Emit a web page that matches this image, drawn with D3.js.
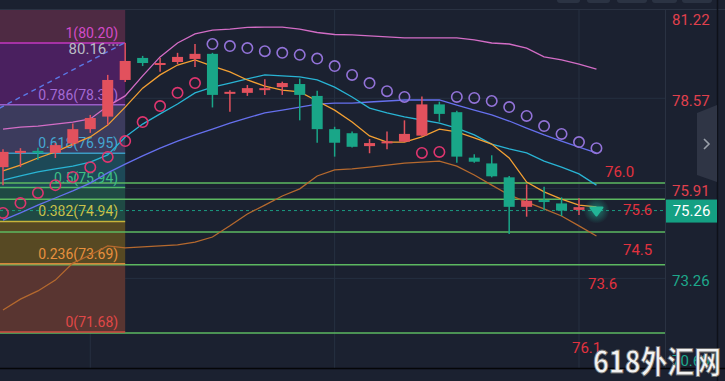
<!DOCTYPE html>
<html><head><meta charset="utf-8">
<script src="https://cdn.jsdelivr.net/npm/d3@7"></script>
<style>html,body{margin:0;padding:0;background:#1b2130;overflow:hidden}svg{display:block}</style>
</head><body><svg id="c" width="725" height="381"></svg>
<script>
// ---------- data ----------
const opens  = [76.54,76.96,77.02,76.96,77.24,77.66,78.03,79.11,79.76,79.58,79.64,79.73,79.88,78.72,78.73,78.81,78.90,78.99,78.64,77.66,77.54,77.16,77.25,77.29,77.47,78.39,78.16,76.82,76.65,76.24,75.37,75.57,75.47,75.28];
const highs  = [77.07,77.10,77.11,77.25,77.83,78.08,79.26,80.20,79.82,79.76,79.91,80.17,79.91,78.81,78.96,79.13,79.06,79.15,78.79,77.73,77.59,77.37,77.59,77.92,78.62,78.47,78.20,76.92,76.89,76.28,76.03,75.96,75.65,75.62];
const lows   = [76.01,76.54,76.75,76.81,77.16,77.55,77.78,79.05,79.52,79.35,79.58,79.49,78.30,78.17,78.64,78.67,78.67,77.92,77.26,76.85,77.12,76.95,77.07,77.28,77.44,77.88,76.67,76.67,76.24,74.57,75.08,75.26,75.10,75.13];
const closes = [76.99,77.02,76.96,77.19,77.66,77.99,79.11,79.67,79.61,79.61,79.79,79.88,78.67,78.76,78.87,78.87,79.02,78.67,77.66,77.26,77.14,77.25,77.30,77.52,78.39,78.11,76.85,76.70,76.27,75.37,75.55,75.53,75.26,75.36];
const lastPrice = 75.26;

const sar = [75.19,75.48,75.78,76.01,76.25,76.54,76.84,77.31,77.87,78.34,78.73,79.02,80.17,80.11,80.05,79.96,79.91,79.85,79.74,79.52,79.26,79.02,78.78,78.61,76.96,76.99,78.61,78.58,78.49,78.31,78.05,77.75,77.52,77.28,77.10];

const upperBand = [77.66,77.72,77.75,77.81,77.87,77.96,78.34,78.64,79.23,79.79,80.20,80.47,80.58,80.61,80.66,80.67,80.67,80.61,80.51,80.45,80.44,80.41,80.38,80.35,80.35,80.35,80.35,80.29,80.20,80.17,80.05,79.79,79.70,79.58,79.43];
const midBand   = [76.16,76.28,76.40,76.49,76.57,76.69,76.90,77.43,77.81,78.11,78.40,78.73,78.90,79.02,79.14,79.26,79.23,79.20,79.11,78.90,78.61,78.28,78.14,78.02,77.93,77.84,77.69,77.49,77.22,77.08,76.96,76.72,76.54,76.34,76.01];
const maFast    = [76.43,76.60,76.81,76.99,77.22,77.43,77.78,78.31,78.87,79.26,79.55,79.70,79.52,79.35,79.11,78.93,78.81,78.76,78.49,78.22,77.87,77.46,77.28,77.28,77.43,77.66,77.58,77.40,77.22,76.81,76.10,75.81,75.60,75.42,75.37];
const maSlow    = [74.98,75.19,75.42,75.63,75.84,76.07,76.37,76.63,76.87,77.10,77.31,77.49,77.66,77.84,77.99,78.14,78.22,78.31,78.40,78.43,78.43,78.46,78.49,78.52,78.52,78.52,78.37,78.22,78.08,77.90,77.69,77.49,77.31,77.13,76.96];
const lowerBand = [72.33,72.65,72.89,73.21,73.71,73.95,74.22,74.16,74.19,74.22,74.25,74.33,74.48,74.81,75.16,75.42,75.69,75.90,76.28,76.46,76.49,76.54,76.60,76.66,76.69,76.72,76.57,76.31,76.01,75.72,75.51,75.31,75.10,74.81,74.51];

const fibLevels = ["1","0.786","0.618","0.5","0.382","0.236","0"];
const fibValues = [80.20,78.38,76.95,75.94,74.94,73.69,71.68];
const fibEndIndex = 7;

const trendStart = [-0.2, 78.28];
const trendEnd   = [6.95, 80.20];
const trendLabel = "80.16";

const hLineValues = [76.07, 75.59, 74.63, 73.66, 71.65];
const hLineLabels = ["76.0","75.6","74.5","73.6","76.1"];

const yTicks = [81.22, 78.57, 75.91, 73.26, 70.60];
const gridIdx = [5, 19, 33];

// ---------- layout / style ----------
const W = 725, H = 381;
const P = {left:0, right:665, top:9, bottom:368};
const RED = "#e2515d", GREEN = "#19a688";
const fibLineColors = ["#c437c0","#9a5cc8","#3a9cc4","#4fb96a","#c8b43a","#d8843a","#d04a40"];
const fibTextColors = ["#d34ac9","#a46ad4","#45a6d2","#3fbf86","#c9c24a","#e8903e","#e04848"];
const zoneColors = ["#4e2a43","#4a205f","#3c3b5d","#1d4957","#1f4a44","#574923","#593531"];
const hLabelLayout = [{dx:605,dy:-6},{dx:623,dy:15.5},{dx:623,dy:23},{dx:588,dy:24},{dx:572,dy:20}];

const svg = d3.select("#c");
const x = d3.scaleLinear().domain([0, 33]).range([3, 579]);
const y = d3.scaleLinear().domain([71.68, 80.20]).range([332, 43]);

svg.append("rect").attr("width", W).attr("height", H).attr("fill", "#1b2130");

const defs = svg.append("defs");
defs.append("clipPath").attr("id","plot").append("rect")
  .attr("x",P.left).attr("y",P.top).attr("width",P.right-P.left).attr("height",P.bottom-P.top);
const glow = defs.append("radialGradient").attr("id","glow");
glow.append("stop").attr("offset","0%").attr("stop-color","#1fc9a3").attr("stop-opacity",0.55);
glow.append("stop").attr("offset","100%").attr("stop-color","#1fc9a3").attr("stop-opacity",0);

const g = svg.append("g").attr("clip-path","url(#plot)");

// grid
g.selectAll(".hg").data(yTicks).join("line")
  .attr("x1",P.left).attr("x2",P.right).attr("y1",d=>y(d)).attr("y2",d=>y(d))
  .attr("stroke","#263040").attr("stroke-width",1);
g.selectAll(".vg").data(gridIdx).join("line")
  .attr("x1",d=>x(d)).attr("x2",d=>x(d)).attr("y1",P.top).attr("y2",P.bottom)
  .attr("stroke","#263040").attr("stroke-width",1);

// fib zones
const fx0 = P.left, fx1 = x(fibEndIndex);
const zoneBounds = [P.top, ...fibValues.map(v=>y(v))];
g.selectAll(".zone").data(zoneColors).join("rect")
  .attr("x",fx0).attr("width",fx1-fx0)
  .attr("y",(d,i)=>zoneBounds[i]).attr("height",(d,i)=>zoneBounds[i+1]-zoneBounds[i])
  .attr("fill",d=>d);

// support / resistance lines
g.selectAll(".hl").data(hLineValues).join("line")
  .attr("x1",P.left).attr("x2",P.right).attr("y1",d=>y(d)).attr("y2",d=>y(d))
  .attr("stroke","#5cb860").attr("stroke-width",1.5);

// fib lines
g.selectAll(".fl").data(fibValues).join("line")
  .attr("x1",fx0).attr("x2",fx1).attr("y1",d=>y(d)).attr("y2",d=>y(d))
  .attr("stroke",(d,i)=>fibLineColors[i]).attr("stroke-width",1.5);

// fib labels
g.selectAll(".ft").data(fibValues).join("text")
  .attr("x",fx1-7).attr("y",d=>y(d)-5).attr("text-anchor","end")
  .attr("font-family","Roboto, sans-serif").attr("font-size",14)
  .attr("fill",(d,i)=>fibTextColors[i])
  .text((d,i)=>`${fibLevels[i]}(${d.toFixed(2)})`);

// dashed trend line
g.append("line")
  .attr("x1",x(trendStart[0])).attr("y1",y(trendStart[1]))
  .attr("x2",x(trendEnd[0])).attr("y2",y(trendEnd[1]))
  .attr("stroke","#5b78e6").attr("stroke-width",1.4).attr("stroke-dasharray","5,4");
g.append("text").attr("x",x(trendEnd[0])-18).attr("y",y(trendEnd[1])+11).attr("text-anchor","end")
  .attr("font-family","Roboto, sans-serif").attr("font-size",15).attr("fill","#b9bcc4").text(trendLabel);
g.append("line").attr("x1",x(trendEnd[0])-16).attr("x2",x(trendEnd[0])-4)
  .attr("y1",y(trendEnd[1])+2).attr("y2",y(trendEnd[1])+2)
  .attr("stroke","#c8cad0").attr("stroke-width",1.2).attr("stroke-dasharray","2,2");

// current price dashed line
g.append("line").attr("x1",P.left).attr("x2",P.right).attr("y1",y(lastPrice)).attr("y2",y(lastPrice))
  .attr("stroke","#1b9a80").attr("stroke-width",1).attr("stroke-dasharray","3,3");

// indicator lines
const line = d3.line().x((d,i)=>x(i)).y(d=>y(d));
[[lowerBand,"#b5692e"],[maSlow,"#6670ee"],[midBand,"#29b4d4"],[maFast,"#f3a033"],[upperBand,"#d36dc6"]]
  .forEach(([arr,c])=>{
    g.append("path").datum(arr).attr("d",line).attr("fill","none")
     .attr("stroke",c).attr("stroke-width",1.3);
  });

// SAR circles
g.selectAll(".sar").data(sar).join("circle")
  .attr("cx",(d,i)=>x(i)).attr("cy",d=>y(d)).attr("r",5.2)
  .attr("fill","none").attr("stroke-width",1.6)
  .attr("stroke",(d,i)=> d > (i<closes.length ? closes[i] : lastPrice) ? "#9373d9" : "#e0356f");

// candles
const bw = 11;
const cg = g.selectAll(".candle").data(opens).join("g");
cg.append("line")
  .attr("x1",(d,i)=>x(i)).attr("x2",(d,i)=>x(i))
  .attr("y1",(d,i)=>y(highs[i])).attr("y2",(d,i)=>y(lows[i]))
  .attr("stroke",(d,i)=>closes[i]>=opens[i]?RED:GREEN).attr("stroke-width",1.5);
cg.append("rect")
  .attr("x",(d,i)=>x(i)-bw/2).attr("width",bw)
  .attr("y",(d,i)=>Math.min(y(opens[i]),y(closes[i])))
  .attr("height",(d,i)=>Math.max(2,Math.abs(y(opens[i])-y(closes[i]))))
  .attr("fill",(d,i)=>closes[i]>=opens[i]?RED:GREEN);

// last price marker
const lx = x(closes.length), ly = y(lastPrice);
g.append("circle").attr("cx",lx).attr("cy",ly).attr("r",13).attr("fill","url(#glow)");
g.append("path").attr("d",`M${lx-6},${ly-3}L${lx+6},${ly-3}L${lx},${ly+5}Z`)
  .attr("fill","#22b596").attr("stroke","#22b596").attr("stroke-linejoin","round").attr("stroke-width",2);

// support labels
svg.selectAll(".hlt").data(hLineValues).join("text")
  .attr("x",(d,i)=>hLabelLayout[i].dx).attr("y",(d,i)=>y(d)+hLabelLayout[i].dy)
  .attr("font-family","Roboto, sans-serif").attr("font-size",15).attr("fill","#e2323f")
  .text((d,i)=>hLineLabels[i]);

// frame
svg.append("line").attr("x1",P.right+0.5).attr("x2",P.right+0.5).attr("y1",P.top).attr("y2",P.bottom)
  .attr("stroke","#2a3242");
svg.append("line").attr("x1",0).attr("x2",W).attr("y1",P.top+0.5).attr("y2",P.top+0.5).attr("stroke","#2a3242");
svg.append("line").attr("x1",0).attr("x2",W).attr("y1",P.bottom+0.5).attr("y2",P.bottom+0.5)
  .attr("stroke","#050608").attr("stroke-width",1.5);
svg.append("line").attr("x1",717.5).attr("x2",717.5).attr("y1",0).attr("y2",H).attr("stroke","#0e1119").attr("stroke-width",1.5);

// top buttons
[[557,23],[587,23],[617,30],[652,25],[682,30]].forEach(([bx,bwid])=>{
  svg.append("rect").attr("x",bx).attr("y",-6).attr("width",bwid).attr("height",9).attr("rx",3)
    .attr("fill","#2b3343");
});

// y axis
const axis = d3.axisRight(y).tickValues(yTicks).tickSize(0).tickPadding(0).tickFormat(d3.format(".2f"));
const ag = svg.append("g").attr("transform",`translate(${P.right+7},0)`).call(axis);
ag.select(".domain").remove();
ag.selectAll(".tick").attr("transform",d=>`translate(0,${Math.max(20,Math.min(361,y(d)+2.5))})`);
ag.selectAll("text").attr("font-family","Roboto, sans-serif").attr("font-size",15)
  .attr("fill",d=>d>lastPrice?"#e0404d":"#1ea88b");

// last price box
svg.append("rect").attr("x",666).attr("y",y(lastPrice)-11).attr("width",51).attr("height",23).attr("fill","#14a083");
svg.append("text").attr("x",691.5).attr("y",y(lastPrice)+5.5).attr("text-anchor","middle")
  .attr("font-family","Roboto, sans-serif").attr("font-size",15).attr("fill","#ffffff").text(lastPrice.toFixed(2));

// side tab
svg.append("path").attr("d","M697,113L717,105L717,182L697,175Z").attr("fill","#2f3545");
svg.append("path").attr("d","M704,139L709,144L704,149").attr("fill","none").attr("stroke","#9aa0aa").attr("stroke-width",1.6);

// watermark
svg.append("text").attr("x",593).attr("y",373)
  .attr("font-family","'Noto Sans CJK SC', sans-serif").attr("font-weight","bold").attr("font-size",31)
  .attr("textLength",128).attr("lengthAdjust","spacingAndGlyphs")
  .attr("fill","#f2f2f2").attr("stroke","#6a6a6a").attr("stroke-width",0.8)
  .text("618外汇网");
</script>
</body></html>
